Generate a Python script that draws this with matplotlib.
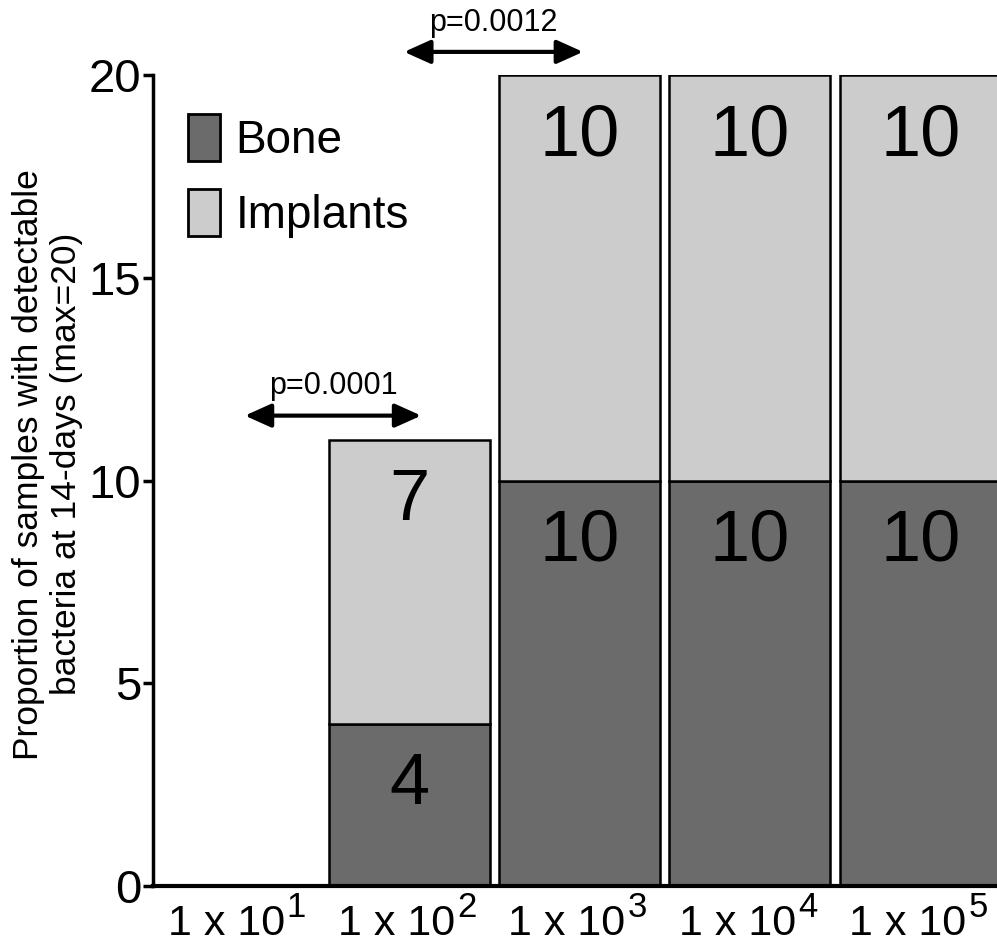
import matplotlib.pyplot as plt
import numpy as np
from matplotlib.patches import Patch
from matplotlib.transforms import ScaledTranslation

plt.rcParams['font.family'] = ['Liberation Sans', 'DejaVu Sans']

dose_base = ['1 x 10'] * 5
dose_exp = ['1', '2', '3', '4', '5']
bone = [0, 4, 10, 10, 10]
implants = [0, 7, 10, 10, 10]
p_values = ['p=0.0001', 'p=0.0012']

bone_color = '#6b6b6b'
implant_color = '#cccccc'

fig = plt.figure(figsize=(9.97, 9.47), dpi=100)
ax = fig.add_axes([0.1535, 0.0644, 0.8465, 0.8564])

x = np.arange(len(dose_base))
w = 0.945
ax.bar(x, bone, w, color=bone_color, edgecolor='black', linewidth=1.8, label='Bone')
ax.bar(x, implants, w, bottom=bone, color=implant_color, edgecolor='black', linewidth=1.8, label='Implants')

# counts written inside each segment
for i in range(len(x)):
    if bone[i] > 0:
        ax.text(x[i], bone[i] - 1.52, str(bone[i]), ha='center', va='center', fontsize=52)
    if implants[i] > 0:
        ax.text(x[i], bone[i] + implants[i] - 1.52, str(implants[i]), ha='center', va='center', fontsize=52)

# significance arrows
arrows = [(0.035, 1.07, 11.6), (0.97, 2.02, 20.57)]
for (x0, x1, yy), p in zip(arrows, p_values):
    ax.annotate('', xy=(x0, yy), xytext=(x1, yy), xycoords='data',
                arrowprops=dict(arrowstyle='<|-|>,head_length=0.4,head_width=0.18', color='black',
                                lw=3, mutation_scale=40, shrinkA=0, shrinkB=0),
                annotation_clip=False)
    ax.text((x0 + x1) / 2, yy + 0.35, p, ha='center', va='bottom', fontsize=22, clip_on=False)

ax.set_xlim(-0.504, 4.45)
ax.set_ylim(0, 20)
ax.set_yticks([0, 5, 10, 15, 20])
ax.set_xticks(x)
ax.set_xticklabels([])
ax.tick_params(axis='x', length=0)
ax.tick_params(axis='y', labelsize=34, length=7.5, width=2.5, pad=1)

# dose labels: "1 x 10" with a raised exponent
trans = ax.get_xaxis_transform()
for i in range(len(x)):
    ax.text(x[i], 0, dose_base[i], fontsize=31, ha='right', va='baseline', clip_on=False,
            transform=trans + ScaledTranslation(33 / 72, -35.5 / 72, fig.dpi_scale_trans))
    ax.text(x[i], 0, dose_exp[i], fontsize=25, ha='left', va='baseline', clip_on=False,
            transform=trans + ScaledTranslation(34.5 / 72, -22.5 / 72, fig.dpi_scale_trans))

ax.spines['right'].set_color('none')
ax.spines['top'].set_color('none')
ax.spines['left'].set_linewidth(2.5)
ax.spines['bottom'].set_linewidth(3)

ax.set_ylabel('Proportion of samples with detectable\nbacteria at 14-days (max=20)', fontsize=25.5)
ax.yaxis.set_label_coords(-0.083, 0.52)

handles = [Patch(facecolor=bone_color, edgecolor='black', linewidth=2),
           Patch(facecolor=implant_color, edgecolor='black', linewidth=2)]
ax.legend(handles, ['Bone', 'Implants'], loc='upper left', bbox_to_anchor=(0.0415, 0.952), frameon=False,
          fontsize=33, handlelength=0.7, handleheight=1.2, handletextpad=0.33, labelspacing=0.58,
          borderpad=0, borderaxespad=0)

fig.savefig('out.png', dpi=100)
